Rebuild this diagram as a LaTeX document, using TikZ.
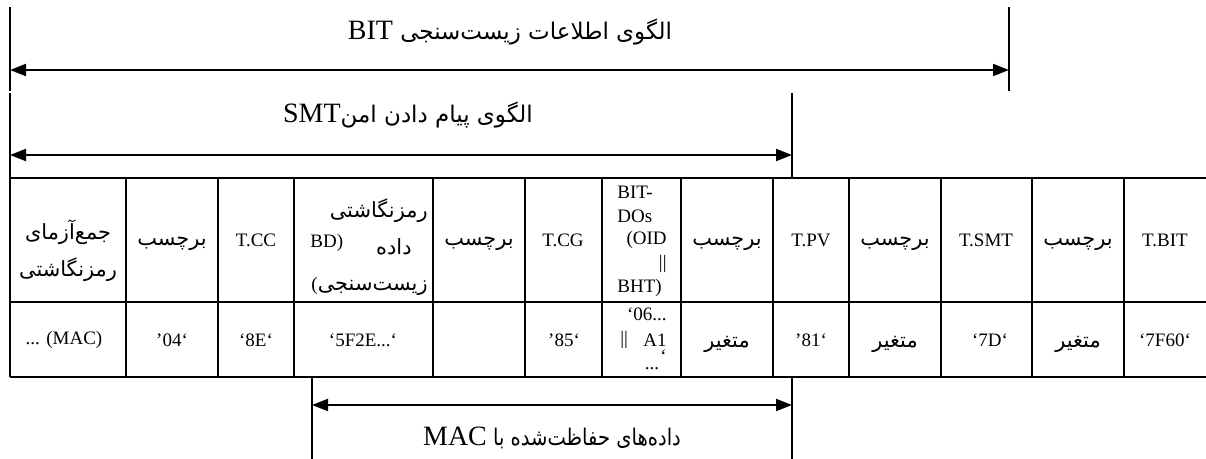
\documentclass[tikz,border=0pt]{standalone}
\usepackage{fontspec}
\setmainfont{Liberation Serif}
\newfontfamily\farsifont[Script=Arabic,Scale=1.1]{DejaVu Sans}
\newfontfamily\farsihead[Script=Arabic,Scale=0.82]{DejaVu Sans}
\newfontfamily\farsinarrow[Script=Arabic,Scale=0.82,FakeStretch=0.85]{DejaVu Sans}
\TeXXeTstate=1
\usetikzlibrary{arrows.meta, positioning}

\newcommand{\fatext}[1]{{\farsifont\beginR #1\endR}}
\newcommand{\fatitle}[1]{{\farsihead\beginR #1\endR}}
\newcommand{\fanarrow}[1]{{\farsinarrow\beginR #1\endR}}
\newcommand{\entext}[1]{\beginL{\rmfamily #1}\endL}

\begin{document}
\begin{tikzpicture}[x=0.5pt, y=-0.5pt,
    rule/.style={line width=1pt},
    span/.style={line width=1pt, {Triangle[length=8pt,width=6pt]}-{Triangle[length=8pt,width=6pt]}},
    title/.style={inner sep=0pt, font=\fontsize{14}{16}\selectfont},
    cell/.style={inner sep=0pt, font=\fontsize{9.5}{11}\selectfont},
    fcell/.style={cell, yshift=-2pt}]

        \useasboundingbox (0,0) rectangle (1206,459);

        % Range bars
        \draw[rule] (10,7) -- (10,91);
        \draw[rule] (1009,7) -- (1009,91);
        \draw[rule] (10,93) -- (10,178);
        \draw[rule] (792,93) -- (792,178);
        \draw[rule] (312,377) -- (312,459);
        \draw[rule] (792,377) -- (792,459);

        % Range arrows
        \coordinate (bitL) at (10,70);
        \coordinate (bitR) at (1009,70);
        \coordinate (smtL) at (10,155);
        \coordinate (smtR) at (792,155);
        \coordinate (macL) at (312,405);
        \coordinate (macR) at (792,405);
        \draw[span] (bitL) -- (bitR);
        \draw[span] (smtL) -- (smtR);
        \draw[span] (macL) -- (macR);

        % Titles
        \node[title] (bitT) at (510,32) {\fatitle{الگوی اطلاعات زیست‌سنجی \entext{BIT}}};
        \node[title] (smtT) at (408,115) {\fatitle{الگوی پیام دادن امن\entext{SMT}}};
        \node[title] (macT) at (552,438) {\fanarrow{داده‌های حفاظت‌شده با \entext{MAC}}};

        % Table
        \draw[rule] (10,178) -- (1206,178);
        \draw[rule] (10,302) -- (1206,302);
        \draw[rule] (10,377) -- (1206,377);
        \foreach \x in {10,126,218,294,433,525,602,681,773,849,941,1032,1124}
            \draw[rule] (\x,178) -- (\x,377);

        % Header row
        \node[fcell] (h1a) at (68,228) {\fatext{جمع‌آزمای}};
        \node[fcell] (h1b) at (68,266) {\fatext{رمزنگاشتی}};
        \node[fcell] (h2) at (172,240) {\fatext{برچسب}};
        \node[cell] (h3) at (256,240) {T.CC};
        \node[fcell, anchor=east] (h4a) at (428,207) {\fatext{رمزنگاشتی}};
        \node[cell, anchor=west] (h4b) at (310,243) {BD)};
        \node[fcell, anchor=east] (h4c) at (412,243) {\fatext{داده}};
        \node[fcell, anchor=east] (h4d) at (428,282) {\fatext{زیست‌سنجی\entext{(}}};
        \node[fcell] (h5) at (479,240) {\fatext{برچسب}};
        \node[cell] (h6) at (563,240) {T.CG};
        \node[cell, anchor=west] (h7a) at (617,192) {BIT-};
        \node[cell, anchor=west] (h7b) at (617,216) {DOs};
        \node[cell, anchor=east] (h7c) at (667,240) {(OID};
        \node[cell, anchor=east] (h7d) at (667,264) {||};
        \node[cell, anchor=west] (h7e) at (617,288) {BHT)};
        \node[fcell] (h8) at (727,240) {\fatext{برچسب}};
        \node[cell] (h9) at (811,240) {T.PV};
        \node[fcell] (h10) at (895,240) {\fatext{برچسب}};
        \node[cell] (h11) at (986,240) {T.SMT};
        \node[fcell] (h12) at (1078,240) {\fatext{برچسب}};
        \node[cell] (h13) at (1165,240) {T.BIT};

        % Data row
        \node[cell] (d1) at (64,340) {... (MAC)};
        \node[cell] (d2) at (172,340) {’04‘};
        \node[cell] (d3) at (256,340) {‘8E‘};
        \node[cell] (d4) at (363,340) {‘5F2E...‘};
        \node[cell] (d6) at (564,340) {’85‘};
        \node[cell, anchor=east] (d7a) at (667,314) {‘06...};
        \node[cell, anchor=west] (d7b) at (620,340) {||};
        \node[cell, anchor=east] (d7c) at (667,340) {A1};
        \node[cell, anchor=east] (d7d) at (667,356) {‘};
        \node[cell] (d7e) at (652,369) {...};
        \node[fcell] (d8) at (727,340) {\fatext{متغیر}};
        \node[cell] (d9) at (811,340) {’81‘};
        \node[fcell] (d10) at (895,340) {\fatext{متغیر}};
        \node[cell] (d11) at (990,340) {‘7D‘};
        \node[fcell] (d12) at (1078,340) {\fatext{متغیر}};
        \node[cell] (d13) at (1165,340) {‘7F60‘};

\end{tikzpicture}
\end{document}
